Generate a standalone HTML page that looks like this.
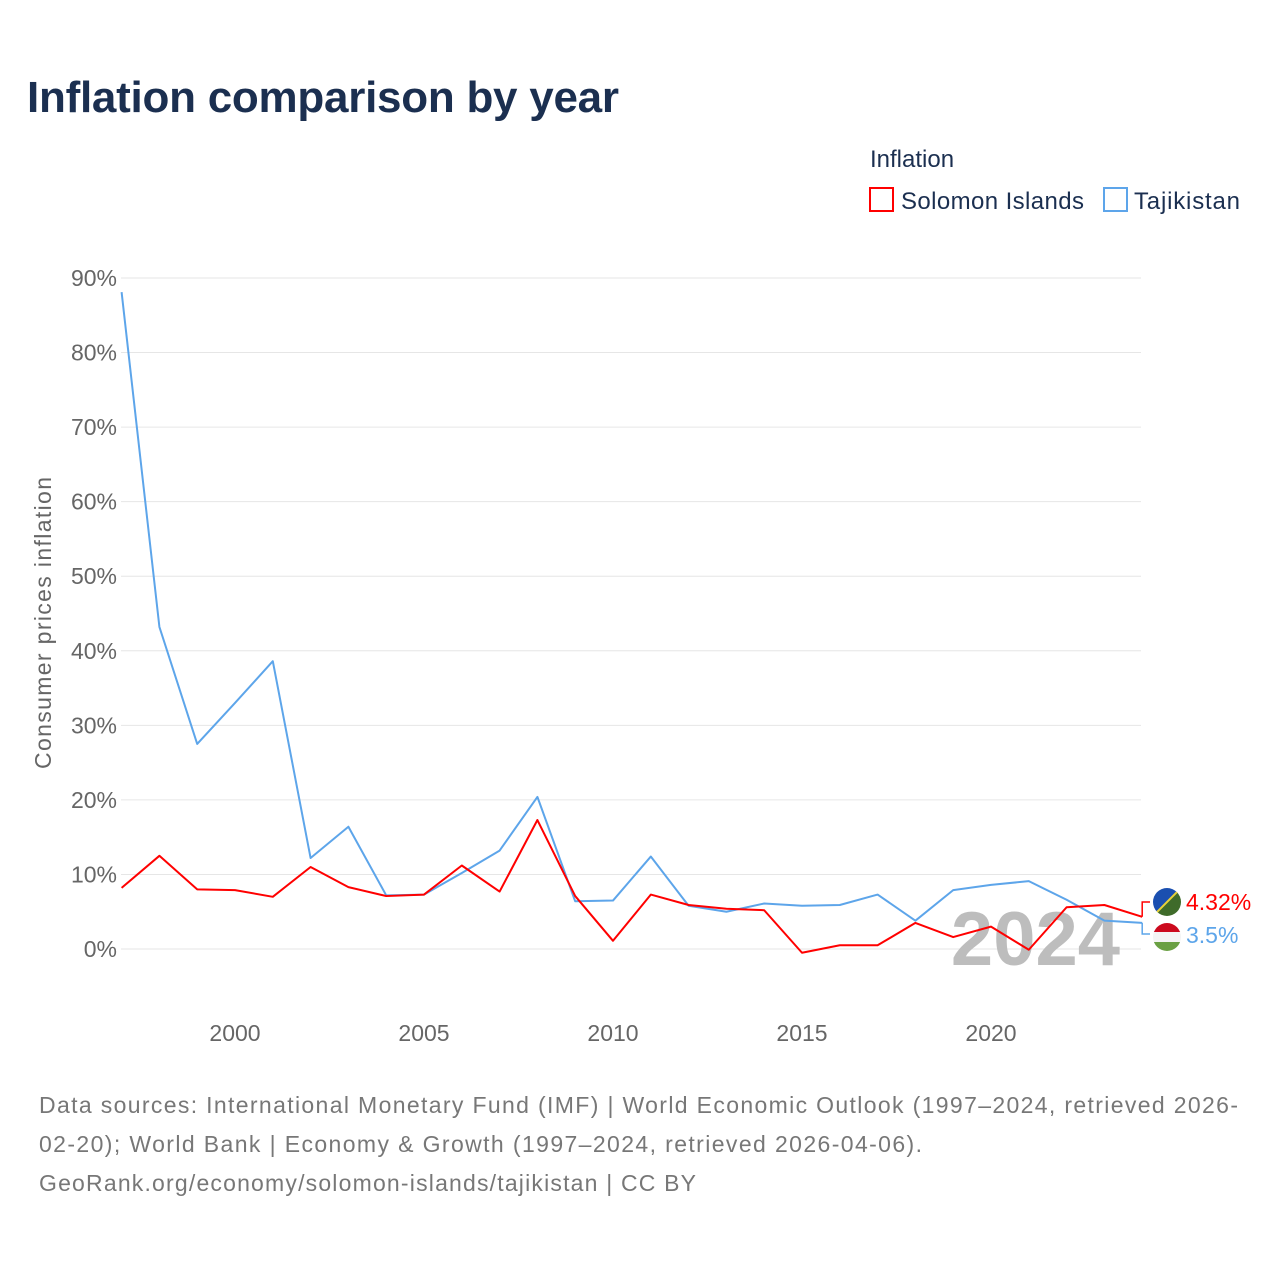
<!DOCTYPE html>
<html><head><meta charset="utf-8"><style>
body{margin:0;background:#fff;width:1280px;height:1280px;overflow:hidden;font-family:"Liberation Sans",sans-serif}
</style></head><body>
<svg id="chart" width="1280" height="1280" xmlns="http://www.w3.org/2000/svg" font-family="Liberation Sans, sans-serif">
<text x="27" y="112" font-size="44" font-weight="bold" fill="#1b2f50" textLength="592">Inflation comparison by year</text>
<text x="870" y="167" font-size="24" fill="#1b2f50">Inflation</text>
<g><rect x="870" y="188" width="23" height="23" fill="none" stroke="#ff0000" stroke-width="2"/><text x="901" y="209" font-size="24" fill="#1b2f50" textLength="183">Solomon Islands</text></g>
<g><rect x="1104" y="188" width="23" height="23" fill="none" stroke="#5da5ea" stroke-width="2"/><text x="1134" y="209" font-size="24" fill="#1b2f50" textLength="106">Tajikistan</text></g>
<g id="grid"></g><g id="yt"></g><g id="xt"></g>
<text x="1120" y="965" font-size="76" font-weight="bold" fill="#bdbdbd" text-anchor="end">2024</text>
<g id="series"></g>
<text transform="translate(51,623) rotate(-90)" font-size="23" fill="#666" text-anchor="middle" textLength="292">Consumer prices inflation</text>
<text font-size="23" fill="#777"><tspan x="39" y="1113" textLength="1199">Data sources: International Monetary Fund (IMF) | World Economic Outlook (1997–2024, retrieved 2026-</tspan><tspan x="39" y="1152" textLength="883">02-20); World Bank | Economy &amp; Growth (1997–2024, retrieved 2026-04-06).</tspan><tspan x="39" y="1191" textLength="657">GeoRank.org/economy/solomon-islands/tajikistan | CC BY</tspan></text>
</svg>
<script>
const years=[1997,1998,1999,2000,2001,2002,2003,2004,2005,2006,2007,2008,2009,2010,2011,2012,2013,2014,2015,2016,2017,2018,2019,2020,2021,2022,2023,2024];
const solomon=[8.2,12.5,8.0,7.9,7.0,11.0,8.3,7.1,7.3,11.2,7.7,17.3,7.1,1.1,7.3,5.9,5.4,5.2,-0.5,0.5,0.5,3.5,1.6,3.0,-0.1,5.6,5.9,4.32];
const tajik=[88.1,43.2,27.5,33.0,38.6,12.2,16.4,7.2,7.3,10.2,13.2,20.4,6.4,6.5,12.4,5.8,5.0,6.1,5.8,5.9,7.3,3.8,7.9,8.6,9.1,6.6,3.8,3.5];
const yTicks=[0,10,20,30,40,50,60,70,80,90];
const xTicks=[2000,2005,2010,2015,2020];
const NS='http://www.w3.org/2000/svg';
const X=v=>121.6+(v-1997)*37.8;
const Y=v=>949-v*7.456;
function mk(t,a,p){const e=document.createElementNS(NS,t);for(const k in a)e.setAttribute(k,a[k]);p.appendChild(e);return e;}
const grid=document.getElementById('grid'),yt=document.getElementById('yt'),xt=document.getElementById('xt'),ser=document.getElementById('series');
yTicks.forEach(v=>{
 const l=mk('line',{x1:121,x2:1141,y1:Y(v),y2:Y(v),stroke:'#e6e6e6','stroke-width':1},grid);
 
 
 const t=mk('text',{x:117,y:Y(v)+8,'font-size':23,fill:'#666','text-anchor':'end'},yt);
 t.textContent=v+'%';
 
 
});
xTicks.forEach(v=>{
 const t=mk('text',{x:X(v),y:1041,'font-size':23,fill:'#666','text-anchor':'middle'},xt);
 t.textContent=v;
 
 
});
function line(vals,col,name){
 const p=mk('polyline',{points:vals.map((v,i)=>X(years[i])+','+Y(v)).join(' '),fill:'none',stroke:col,'stroke-width':2,'stroke-linejoin':'round'},ser);
 
 
}
line(tajik,'#5da5ea','line-tajikistan');
line(solomon,'#ff0000','line-solomon-islands');
const lastS=solomon[solomon.length-1],lastT=tajik[tajik.length-1];
const lx=X(2024);
const ls=mk('polyline',{points:`${lx},${Y(lastS)} ${lx},902 1150,902`,fill:'none',stroke:'#ff0000','stroke-width':1.5},ser);


const lt=mk('polyline',{points:`${lx},${Y(lastT)} ${lx},934 1150,934`,fill:'none',stroke:'#5da5ea','stroke-width':1.5},ser);


const f1=mk('g',{},ser);


mk('clipPath',{id:'c1'},f1).appendChild(document.createElementNS(NS,'circle'));
const c1=f1.querySelector('circle');c1.setAttribute('cx',1167);c1.setAttribute('cy',902);c1.setAttribute('r',14);
mk('polygon',{points:'1153,888 1181,888 1153,916',fill:'#1a4fb0','clip-path':'url(#c1)'},f1);
mk('polygon',{points:'1181,888 1181,916 1153,916',fill:'#3f6b2a','clip-path':'url(#c1)'},f1);
mk('line',{x1:1181,y1:888,x2:1153,y2:916,stroke:'#e8d23a','stroke-width':2,'clip-path':'url(#c1)'},f1);
const f2=mk('g',{},ser);


mk('clipPath',{id:'c2'},f2).appendChild(document.createElementNS(NS,'circle'));
const c2=f2.querySelector('circle');c2.setAttribute('cx',1167);c2.setAttribute('cy',937);c2.setAttribute('r',14);
mk('rect',{x:1153,y:923,width:28,height:9,fill:'#cc0a1e','clip-path':'url(#c2)'},f2);
mk('rect',{x:1153,y:932,width:28,height:10,fill:'#f4f4f4','clip-path':'url(#c2)'},f2);
mk('rect',{x:1153,y:942,width:28,height:9,fill:'#6aa043','clip-path':'url(#c2)'},f2);
const v1=mk('text',{x:1186,y:910,'font-size':23,fill:'#ff0000'},ser);v1.textContent=lastS+'%';


const v2=mk('text',{x:1186,y:943,'font-size':23,fill:'#5da5ea'},ser);v2.textContent=lastT+'%';


</script>
</body></html>
